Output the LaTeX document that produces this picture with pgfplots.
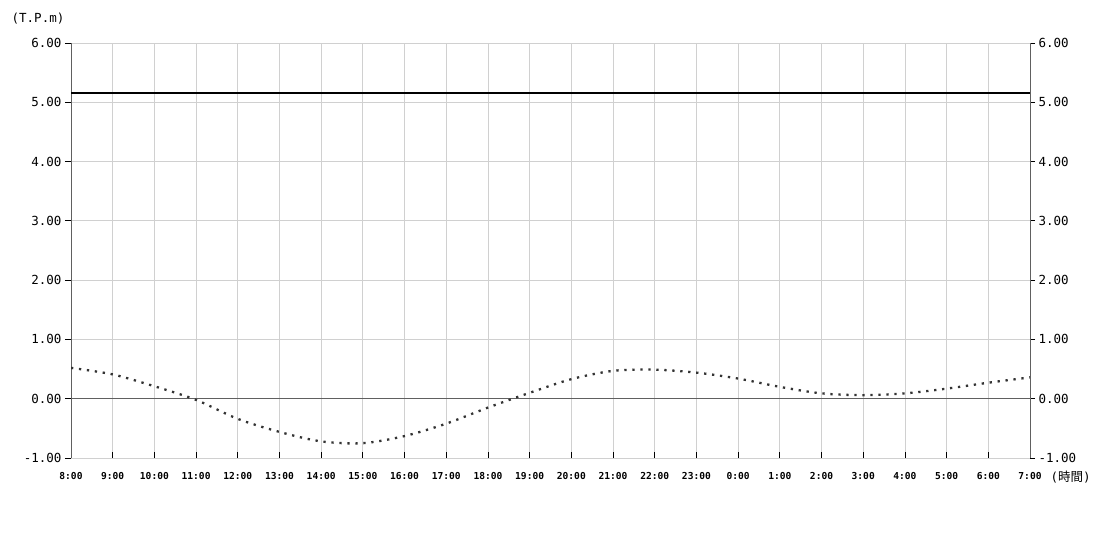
\documentclass[border=0pt]{standalone}
\usepackage{fontspec}
\setmainfont{DejaVu Sans Mono}
\newfontfamily\cjk{Noto Sans CJK JP}
\usepackage{pgfplots}
\pgfplotsset{compat=1.18}
\definecolor{gridc}{HTML}{D0D0D0}
\definecolor{axisc}{HTML}{606060}
\definecolor{tidec}{HTML}{333333}

\pgfplotsset{
  tideaxis/.style={
    scale only axis, width=959bp, height=415bp,
    at={(71bp,92bp)}, anchor=south west,
    xmin=0, xmax=23, ymin=-1, ymax=6,
    ytick={-1,0,1,2,3,4,5,6},
    yticklabels={-1.00,0.00,1.00,2.00,3.00,4.00,5.00,6.00},
    yticklabel style={font=\fontsize{12.5bp}{14bp}\selectfont, black},
    tick align=outside, major tick length=5bp,
    tick style={black, line width=0.8bp},
  }
}

\begin{document}
\begin{tikzpicture}
\useasboundingbox (0,0) rectangle (1100bp,550bp);

\begin{axis}[tideaxis,
    axis y line*=left, axis x line*=bottom,
    x axis line style={gridc, -},
    y axis line style={axisc, line width=0.8bp, -},
    grid=major, grid style={gridc, line width=0.8bp},
    xtick={0,1,...,23},
    xticklabels={8:00,9:00,10:00,11:00,12:00,13:00,14:00,15:00,16:00,17:00,18:00,19:00,20:00,21:00,22:00,23:00,0:00,1:00,2:00,3:00,4:00,5:00,6:00,7:00},
    xticklabel style={font=\fontsize{9.6bp}{11bp}\selectfont\bfseries, black, yshift=-5bp},
    major x tick style={yshift=6bp},
    major tick length=6bp,
  ]
  % 0 line
  \addplot[axisc, line width=0.9bp] coordinates {(0,0) (23,0)};
  % constant level
  \addplot[black, line width=1.8bp] coordinates {(0,5.15) (23,5.15)};
  % tide
  \addplot[tidec, line width=2.3bp, smooth, dash pattern=on 2.3bp off 5.7bp] coordinates {
    (0,0.52) (1,0.41) (2,0.21) (3,-0.02) (4,-0.34) (5,-0.56) (6,-0.72) (7,-0.75)
    (8,-0.63) (9,-0.42) (10,-0.15) (11,0.10) (12,0.33) (13,0.47) (14,0.49) (15,0.44)
    (16,0.34) (17,0.20) (18,0.09) (19,0.06) (20,0.09) (21,0.17) (22,0.27) (23,0.36)
  };
\end{axis}

\begin{axis}[tideaxis,
    axis y line*=right, axis x line=none,
    y axis line style={axisc, line width=0.8bp, -},
    xtick=\empty,
  ]
\end{axis}

\node[font=\fontsize{12.5bp}{14bp}\selectfont] at (38bp,531bp) {(T.P.m)};
\node[font=\fontsize{12.5bp}{14bp}\selectfont, anchor=west] at (1047bp,73bp) {(\cjk 時間\rmfamily)};
\end{tikzpicture}
\end{document}
